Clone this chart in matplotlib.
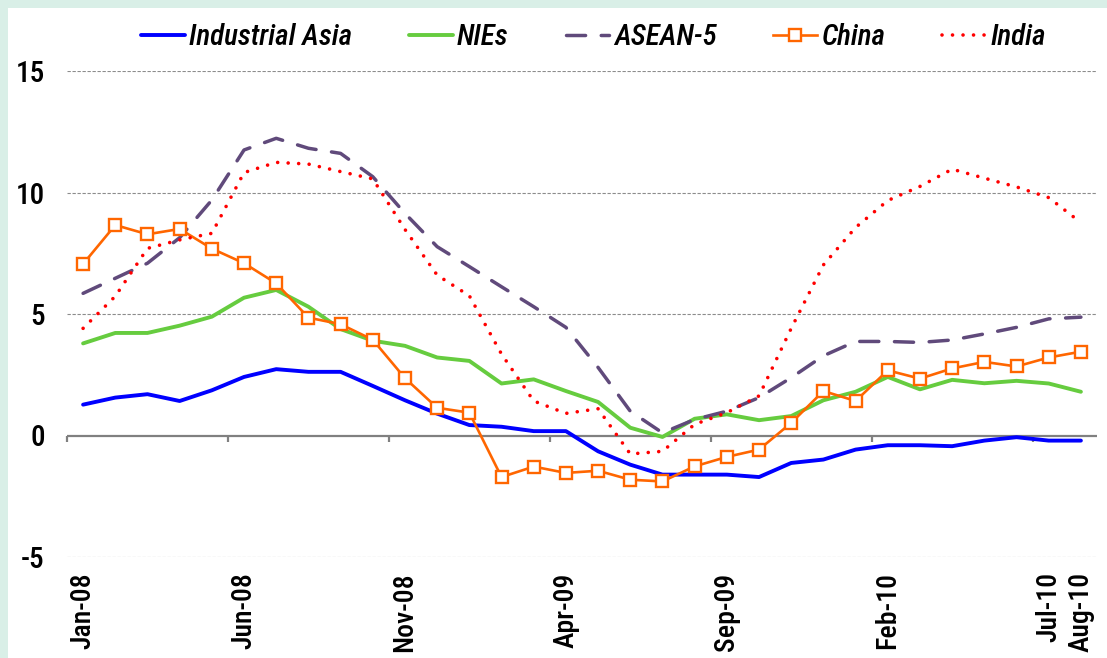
import matplotlib
matplotlib.use("Agg")
import matplotlib.pyplot as plt
from matplotlib import font_manager
from matplotlib.patches import Rectangle
import numpy as np

# ---------------- data ----------------
months = ["Jan-08", "Feb-08", "Mar-08", "Apr-08", "May-08", "Jun-08", "Jul-08", "Aug-08",
          "Sep-08", "Oct-08", "Nov-08", "Dec-08", "Jan-09", "Feb-09", "Mar-09", "Apr-09",
          "May-09", "Jun-09", "Jul-09", "Aug-09", "Sep-09", "Oct-09", "Nov-09", "Dec-09",
          "Jan-10", "Feb-10", "Mar-10", "Apr-10", "May-10", "Jun-10", "Jul-10", "Aug-10"]
shown_labels = ["Jan-08", "Jun-08", "Nov-08", "Apr-09", "Sep-09", "Feb-10", "Jul-10", "Aug-10"]

industrial_asia = [1.27, 1.56, 1.70, 1.42, 1.86, 2.41, 2.73, 2.62, 2.62, 2.04, 1.45, 0.90,
                   0.43, 0.36, 0.18, 0.18, -0.65, -1.20, -1.61, -1.61, -1.61, -1.71, -1.13,
                   -0.99, -0.58, -0.40, -0.40, -0.44, -0.21, -0.07, -0.21, -0.21]
nies = [3.79, 4.22, 4.22, 4.52, 4.89, 5.67, 5.99, 5.30, 4.38, 3.90, 3.69, 3.21, 3.07, 2.14,
        2.31, 1.83, 1.38, 0.32, -0.06, 0.69, 0.87, 0.63, 0.80, 1.45, 1.80, 2.41, 1.90, 2.29,
        2.15, 2.25, 2.14, 1.80]
asean5 = [5.85, 6.47, 7.09, 8.14, 9.69, 11.75, 12.23, 11.82, 11.61, 10.65, 9.14, 7.77, 6.95,
          6.12, 5.30, 4.45, 2.80, 1.00, 0.11, 0.66, 1.00, 1.56, 2.38, 3.28, 3.87, 3.87, 3.83,
          3.93, 4.18, 4.45, 4.80, 4.87]
china = [7.06, 8.66, 8.28, 8.50, 7.69, 7.09, 6.26, 4.85, 4.58, 3.94, 2.36, 1.14, 0.94, -1.71,
         -1.28, -1.54, -1.45, -1.82, -1.89, -1.27, -0.88, -0.58, 0.52, 1.83, 1.42, 2.68, 2.34,
         2.76, 3.03, 2.84, 3.21, 3.45]
india = [4.41, 5.73, 7.70, 8.05, 8.32, 10.82, 11.24, 11.17, 10.86, 10.56, 8.48, 6.60, 5.75,
         3.35, 1.42, 0.91, 1.10, -0.76, -0.65, 0.46, 0.94, 1.63, 4.41, 7.02, 8.56, 9.67, 10.25,
         10.96, 10.59, 10.23, 9.79, 8.76]
y_ticks = [-5, 0, 5, 10, 15]

# ---------------- fonts ----------------
available = {f.name for f in font_manager.fontManager.ttflist}
main_font = "Liberation Sans"
for cand in ["Roboto Condensed", "Archivo Narrow", "PT Sans Narrow", "Fira Sans Condensed",
             "Barlow Semi Condensed", "Liberation Sans Narrow"]:
    if cand in available:
        main_font = cand
        break
plt.rcParams["font.family"] = [main_font, "DejaVu Sans"]
plt.rcParams["font.weight"] = "medium"

# ---------------- figure ----------------
W, H = 1107, 658
fig = plt.figure(figsize=(W / 100, H / 100), dpi=100)
fig.patch.set_facecolor("#D9EFE7")
bg = Rectangle((8 / W, 0), 1 - 8 / W, 1 - 8 / H, transform=fig.transFigure,
               facecolor="white", edgecolor="none", zorder=-10)
fig.patches.append(bg)

ax = fig.add_axes([67 / W, (H - 557) / H, 1030 / W, 486 / H])
ax.set_zorder(5)
ax.set_facecolor("none")

x = np.arange(len(months))

ax.plot(x, industrial_asia, color="#0000FF", lw=2.8, label="Industrial Asia",
        solid_joinstyle="round", solid_capstyle="round", zorder=3)
ax.plot(x, nies, color="#66CC3F", lw=2.8, label="NIEs", solid_joinstyle="round",
        solid_capstyle="round", zorder=3)
ax.plot(x, asean5, color="#604A7B", lw=2.5, label="ASEAN-5", linestyle=(0, (5.5, 4.5)),
        dash_capstyle="round", zorder=3)
ax.plot(x, china, color="#FF6600", lw=1.9, label="China", marker="s", markersize=8,
        markerfacecolor="white", markeredgecolor="#FF6600", markeredgewidth=1.7, zorder=4)
ax.plot(x, india, color="#FF0000", lw=2.6, label="India", linestyle=(0, (0.01, 2.9)),
        dash_capstyle="round", zorder=5)

ax.set_xlim(-0.5, len(months) - 0.5)
ax.set_ylim(-5, 15)

# grid
for yv in y_ticks:
    if yv != 0:
        ax.axhline(yv, color="#8C8C8C", lw=0.8, linestyle=(0, (3, 1.5)), zorder=1)
ax.axhline(0, color="#808080", lw=1.6, zorder=2)

for s in ax.spines.values():
    s.set_visible(False)

ax.set_yticks(y_ticks)
ax.set_yticklabels([str(v) for v in y_ticks], fontsize=21)
ax.tick_params(axis="y", length=0, pad=16)

# x-axis tick marks at category boundaries (drawn from zero line downward)
boundaries = np.arange(-0.5, len(months), 5)
for b in boundaries:
    ax.plot([b, b], [0, -0.28], color="#808080", lw=1.6, zorder=2, clip_on=False,
            solid_capstyle="butt")

label_pos = [months.index(m) for m in shown_labels]
ax.set_xticks(label_pos)
ax.set_xticklabels(shown_labels, rotation=90, fontsize=20, va="top", ha="center")
ax.tick_params(axis="x", length=0, pad=11)

leg = ax.legend(loc="center", bbox_to_anchor=(0.511, 1.069), ncol=5, frameon=False,
                prop={"family": [main_font, "DejaVu Sans"], "style": "italic",
                      "size": 21, "weight": "medium"},
                handlelength=1.5, handletextpad=0.15, columnspacing=1.95,
                borderaxespad=0)

fig.savefig("out.png", dpi=100, facecolor=fig.get_facecolor())
